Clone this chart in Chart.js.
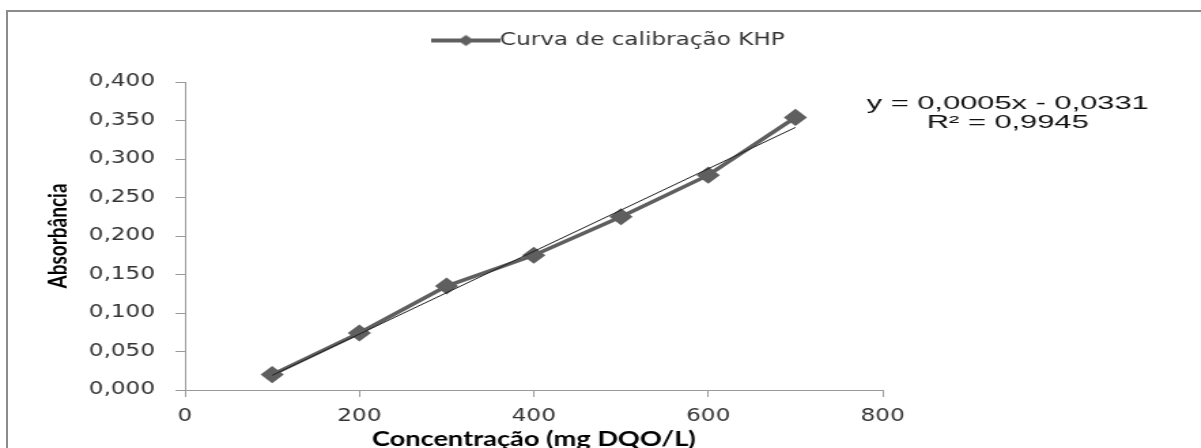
<!DOCTYPE html>
<html lang="pt">
<head>
<meta charset="utf-8">
<title>Curva de calibração KHP</title>
<script src="https://cdn.jsdelivr.net/npm/chart.js@4.4.1/dist/chart.umd.min.js"></script>
<style>
  html, body { margin: 0; padding: 0; background: #fff; overflow: hidden; }
  #wrap { position: relative; width: 1201px; height: 448px; overflow: hidden; }
  /* the original picture is stretched sideways, so the canvas is too */
  #my-chart { position: absolute; left: 0; top: 0; transform: scaleX(1.36); transform-origin: 0 0; }
  #frame { position: absolute; left: 6px; top: 10px; width: 1300px; height: 600px;
           border-left: 2px solid #8c8c8c; border-top: 2px solid #8c8c8c; pointer-events: none; }
</style>
</head>
<body>
<div id="wrap">
  <canvas id="my-chart" width="883" height="462"></canvas>
  <div id="frame"></div>
</div>
<script>
'use strict';

// *********** DATA ****************

let concentracao = [100, 200, 300, 400, 500, 600, 700];
let absorbancia = [0.020, 0.074, 0.135, 0.175, 0.225, 0.279, 0.354];

// linear trendline, ends
let trendX = [100, 700];
let trendY = [0.019, 0.341];

let xTicks = [0, 200, 400, 600, 800];
let yTicks = [0, 0.05, 0.1, 0.15, 0.2, 0.25, 0.3, 0.35, 0.4];

let seriesLabel = 'Curva de calibração KHP';
let equationLines = ['y = 0,0005x - 0,0331', 'R² = 0,9945'];

// *********** STYLE ****************

let seriesColor = '#5f5f5f';
let axisColor = '#9a9a9a';
let tickColor = '#333333';

Chart.defaults.font.family = '"DejaVu Sans", Verdana, sans-serif';
Chart.defaults.font.size = 17;
Chart.defaults.color = tickColor;

// legend icon: line with a small diamond, like the spreadsheet legend
function makeLegendIcon() {
  let icon = document.createElement('canvas');
  icon.width = 51;
  icon.height = 20;
  let c = icon.getContext('2d');
  c.strokeStyle = seriesColor;
  c.lineWidth = 4;
  c.beginPath();
  c.moveTo(0, 10);
  c.lineTo(51, 10);
  c.stroke();
  c.fillStyle = seriesColor;
  c.beginPath();
  c.moveTo(19.5, 10);
  c.lineTo(25.5, 4.5);
  c.lineTo(31.5, 10);
  c.lineTo(25.5, 15.5);
  c.closePath();
  c.fill();
  return icon;
}
let legendIcon = makeLegendIcon();

// ********** PLUGINS ********************

// keeps the plot area below the legend where the original has it
let legendSpace = {
  id: 'legendSpace',
  beforeInit(chart) {
    let fit = chart.legend.fit;
    chart.legend.fit = function () {
      fit.call(this);
      this.height = 82;
    };
  }
};

let equationText = {
  id: 'equationText',
  afterDraw(chart) {
    let ctx = chart.ctx;
    let area = chart.chartArea;
    ctx.save();
    ctx.font = '18px "Liberation Sans", Arial, sans-serif';
    ctx.fillStyle = '#111';
    ctx.textAlign = 'center';
    ctx.textBaseline = 'middle';
    for (let i = 0; i < equationLines.length; i++) {
      ctx.save();
      ctx.translate(area.right + 92, area.top + 22 + i * 19);
      ctx.scale(1.26, 1);
      ctx.fillText(equationLines[i], 0, 0);
      ctx.restore();
    }
    ctx.restore();
  }
};

// ******** CHART ***********

let seriesPoints = concentracao.map((x, i) => ({ x: x, y: absorbancia[i] }));
let trendPoints = trendX.map((x, i) => ({ x: x, y: trendY[i] }));

let ctx = document.getElementById('my-chart').getContext('2d');

new Chart(ctx, {
  type: 'line',
  data: {
    datasets: [{
      label: seriesLabel,
      data: seriesPoints,
      borderColor: seriesColor,
      backgroundColor: seriesColor,
      borderWidth: 3.5,
      pointStyle: 'rectRot',
      pointRadius: 7.5,
      pointBorderWidth: 1.5,
      tension: 0,
      order: 1
    },
    {
      label: 'Linear',
      data: trendPoints,
      borderColor: '#1e1e1e',
      borderWidth: 1,
      pointRadius: 0,
      tension: 0,
      order: 0
    }]
  },
  options: {
    responsive: false,
    animation: false,
    devicePixelRatio: 1,
    layout: { padding: { left: 20, right: 0, top: 0, bottom: 0 } },
    plugins: {
      tooltip: { enabled: false },
      legend: {
        position: 'top',
        labels: {
          usePointStyle: true,
          pointStyleWidth: 33,
          padding: 32,
          color: tickColor,
          font: { size: 17 },
          filter: item => item.datasetIndex === 0,
          generateLabels(chart) {
            let items = Chart.defaults.plugins.legend.labels.generateLabels(chart);
            items.forEach(item => { item.pointStyle = legendIcon; });
            return items;
          }
        }
      }
    },
    scales: {
      x: {
        type: 'linear',
        min: 0,
        max: 800,
        afterBuildTicks: scale => { scale.ticks = xTicks.map(v => ({ value: v })); },
        afterFit: scale => { scale.height = 72; },
        ticks: { padding: 9, color: tickColor, callback: v => String(v) },
        grid: { drawOnChartArea: false, tickLength: 7, color: axisColor },
        border: { color: axisColor, width: 1 },
        title: {
          display: true,
          text: 'Concentração (mg DQO/L)',
          color: '#000',
          font: { family: 'Lato', weight: 'bold', size: 20 },
          padding: { top: 0, bottom: 10 }
        }
      },
      y: {
        min: 0,
        max: 0.4,
        afterBuildTicks: scale => { scale.ticks = yTicks.map(v => ({ value: v })); },
        afterFit: scale => { scale.width = 116; },
        ticks: { padding: 15, color: tickColor, callback: v => v.toFixed(3).replace('.', ',') },
        grid: { drawOnChartArea: false, tickLength: 7, color: axisColor },
        border: { color: axisColor, width: 1 },
        title: {
          display: true,
          text: 'Absorbância',
          color: '#000',
          font: { family: 'Lato', weight: 'bold', size: 19 },
          padding: { top: 11, bottom: 0 }
        }
      },
      // empty space on the right for the trendline equation
      y2: {
        position: 'right',
        afterFit: scale => { scale.width = 234; },
        ticks: { display: false },
        grid: { display: false },
        border: { display: false }
      }
    }
  },
  plugins: [legendSpace, equationText]
});
</script>
</body>
</html>
